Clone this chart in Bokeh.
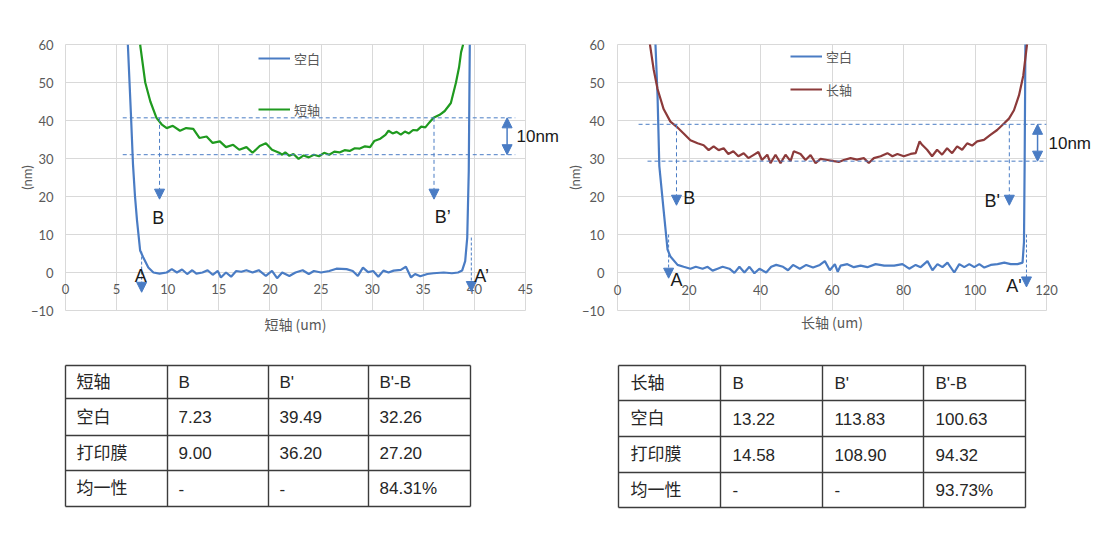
from bokeh.plotting import figure
from bokeh.models import Range1d, Label, Arrow, NormalHead, Legend, LegendItem, FixedTicker, LinearAxis
from bokeh.layouts import column, row
from bokeh.embed import file_html
from bokeh.resources import INLINE
from bokeh.core.properties import value

# ---------------- data ----------------
y_ticks = [-10, 0, 10, 20, 30, 40, 50, 60]
short_ticks = [0, 5, 10, 15, 20, 25, 30, 35, 40, 45]
long_ticks = [0, 20, 40, 60, 80, 100, 120]

# 短轴 chart: 空白 (blank)
blank_short_x = [6.1, 6.4, 6.6, 6.8, 7.0, 7.3, 7.6, 8.1, 8.6, 9.2, 9.9, 10.4, 10.9, 11.4, 11.9,
                 12.4, 12.8, 13.4, 13.9, 14.4, 14.9, 15.2, 15.7, 16.2, 16.7, 17.2, 17.7, 18.3, 18.9,
                 19.6, 20.2, 20.7, 21.2, 21.9, 22.5, 23.2, 23.8, 24.3, 25.0, 25.8, 26.5, 27.5, 28.1,
                 28.6, 29.1, 29.6, 30.1, 30.6, 31.1, 31.6, 32.1, 32.8, 33.3, 33.8, 34.2, 34.7, 35.4,
                 36.0, 37.0, 37.8, 38.4, 38.8, 39.1, 39.3, 39.45, 39.55]
blank_short_y = [60, 41.7, 28.6, 20.0, 13.6, 5.8, 4.0, 1.3, 0.0, -0.3, 0.0, 0.9, 0.0, 0.8, -0.4,
                 0.6, -0.3, 0.0, 0.6, -0.6, 0.4, -1.3, 0.0, -1.1, 0.4, 0.2, 0.6, 0.0, 0.6,
                 -0.9, 0.4, -1.5, 0.0, -0.9, 0.0, 0.6, -0.4, 0.4, 0.0, 0.4, 1.0, 0.9, 0.4,
                 -0.9, 1.3, 0.1, 0.4, -1.1, 0.5, 0.0, 0.5, 0.7, 1.5, -1.3, -0.4, -1.0, -0.4,
                 -0.2, 0.0, -0.2, 0.0, 0.5, 3.0, 9.2, 26.8, 60]

# 短轴 chart: printed film
film_short_x = [7.3, 7.8, 8.3, 8.9, 9.4, 9.9, 10.5, 11.2, 11.8, 12.5, 13.1, 13.8, 14.4, 15.1,
                15.7, 16.4, 17.0, 17.7, 18.3, 19.0, 19.6, 20.2, 20.9, 21.2, 21.5, 21.9, 22.3,
                22.8, 23.3, 23.8, 24.3, 24.8, 25.3, 25.8, 26.3, 26.8, 27.3, 27.8, 28.3, 28.8,
                29.3, 29.8, 30.2, 30.8, 31.3, 31.6, 32.0, 32.4, 32.8, 33.2, 33.6, 34.0, 34.4,
                34.8, 35.2, 35.6, 36.0, 36.6, 37.1, 37.7, 38.2, 38.5, 38.7, 38.9]
film_short_y = [60, 50, 45, 40.7, 39.0, 38.0, 38.6, 37.3, 38.0, 37.8, 35.4, 35.8, 34.1, 34.5,
                33.0, 33.6, 32.3, 33.0, 31.5, 33.3, 34.0, 32.3, 31.5, 31.0, 31.6, 30.7, 31.2,
                29.9, 30.8, 30.3, 31.0, 30.6, 31.5, 31.0, 31.8, 31.6, 32.2, 32.0, 32.7, 32.6,
                33.2, 33.0, 34.6, 35.2, 36.2, 37.3, 36.6, 37.0, 36.3, 37.1, 36.6, 37.5, 37.4,
                38.4, 38.2, 39.5, 40.7, 41.5, 42.5, 44.6, 50, 54, 58, 60]

# 长轴 chart: 空白 (blank)
blank_long_x = [10.6, 11.2, 11.7, 12.9, 14.0, 14.8, 16.8, 18.5, 20.4, 21.9, 23.8, 25.2, 26.6,
                28.0, 29.4, 31.3, 32.7, 34.1, 35.5, 36.9, 38.3, 39.7, 41.6, 43.0, 44.4, 46.3,
                47.7, 49.1, 51.0, 52.8, 54.7, 56.6, 58.0, 59.4, 60.8, 61.6, 62.4, 64.3, 66.1,
                68.0, 69.9, 72.2, 74.6, 77.4, 79.7, 81.6, 83.4, 84.8, 86.7, 88.1, 89.5, 90.9,
                92.3, 94.2, 95.6, 97.0, 98.4, 99.8, 101.2, 102.6, 104.4, 106.3, 108.2, 110.0,
                111.9, 113.3, 113.7, 113.9, 114.1]
blank_long_y = [60.5, 46.5, 28.0, 16.4, 6.0, 4.2, 2.0, 1.5, 1.0, 1.5, 1.0, 1.5, 0.5,
                1.0, 1.5, 1.0, -0.1, 1.5, 0.0, 1.5, -0.2, 1.0, 0.0, 1.5, 2.0, 1.5,
                0.6, 2.0, 1.0, 2.0, 1.3, 2.0, 3.0, 0.6, 2.2, 0.2, 1.8, 2.2, 1.4,
                1.8, 1.4, 2.2, 1.8, 1.8, 2.2, 1.0, 2.0, 1.4, 3.0, 0.6, 2.2, 1.4,
                2.6, 0.0, 2.2, 1.4, 2.2, 1.4, 2.2, 1.3, 2.0, 2.2, 2.6, 2.2,
                2.2, 2.6, 8.0, 30.0, 60.5]

# 长轴 chart: printed film
film_long_x = [9.0, 10.1, 11.2, 12.9, 14.8, 16.5, 18.5, 20.4, 22.4, 24.1, 25.5, 26.9, 28.3,
               29.7, 31.0, 32.4, 33.8, 35.3, 36.6, 38.0, 39.4, 40.4, 41.9, 42.8, 44.2, 45.6,
               47.0, 48.4, 49.3, 51.2, 52.6, 54.0, 55.4, 56.8, 58.7, 60.6, 61.9, 63.3, 65.2,
               67.0, 68.9, 70.3, 71.7, 73.6, 75.5, 76.9, 78.3, 80.1, 82.0, 83.4, 84.5, 85.2,
               86.6, 88.0, 89.4, 90.8, 92.2, 93.6, 95.0, 96.4, 97.8, 99.2, 100.6, 102.5, 104.3,
               106.2, 108.1, 109.5, 110.9, 112.3, 113.5, 114.6]
film_long_y = [60.5, 53.5, 48.3, 43.0, 39.7, 38.4, 36.6, 34.8, 34.0, 33.5, 32.2, 33.2, 32.2,
               32.7, 31.2, 31.9, 30.6, 31.4, 30.1, 30.9, 31.7, 29.6, 31.0, 28.8, 31.0, 28.8,
               31.0, 29.3, 31.9, 31.2, 29.6, 30.9, 28.8, 29.9, 29.6, 29.3, 29.1, 29.6, 30.1,
               29.7, 30.1, 28.8, 30.1, 30.6, 31.4, 30.6, 31.2, 30.6, 31.2, 31.4, 34.5, 33.6,
               32.3, 30.6, 32.3, 31.0, 32.7, 31.4, 33.2, 32.3, 34.0, 33.4, 34.5, 34.9, 36.2,
               37.5, 39.2, 40.5, 42.7, 46.6, 51.8, 60.4]

# marker annotations
short_band = [31.0, 40.7]
short_B = [9.2, 36.05]
short_A = [7.45, 39.7]
long_band = [29.3, 39.0]
long_B = [16.5, 109.6]
long_A = [14.3, 114.4]

# tables
short_header = ["短轴", "B", "B'", "B'-B"]
short_rows = [["空白", "7.23", "39.49", "32.26"],
              ["打印膜", "9.00", "36.20", "27.20"],
              ["均一性", "-", "-", "84.31%"]]
long_header = ["长轴", "B", "B'", "B'-B"]
long_rows = [["空白", "13.22", "113.83", "100.63"],
             ["打印膜", "14.58", "108.90", "94.32"],
             ["均一性", "-", "-", "93.73%"]]

# ---------------- style ----------------
BLUE = "#4a7cc4"
GREEN = "#1f9a1f"
RED = "#8c3a3a"
GRID = "#d9d9d9"
TICK = "#595959"
INK = "#1a1a1a"
CJK = "Noto Sans CJK SC"
LAT = "Liberation Sans"
NUMF = "Lato"


def no_ticks(ax):
    ax.axis_line_color = None
    ax.major_tick_line_color = None
    ax.minor_tick_line_color = None
    ax.major_tick_out = 0
    ax.major_tick_in = 0
    ax.minor_tick_out = 0
    ax.minor_tick_in = 0


def base_chart(width, height, left, right, top, bottom, xmax, xticks, x_title,
               xstand, xtitle_stand, ystand, ytitle_stand):
    p = figure(width=width, height=height, x_range=Range1d(0, xmax), y_range=Range1d(-10, 60),
               output_backend="svg", toolbar_location=None,
               min_border_left=left, min_border_right=width - right,
               min_border_top=top, min_border_bottom=height - bottom)
    p.background_fill_color = "white"
    p.border_fill_color = "white"
    p.outline_line_color = GRID
    p.xaxis.ticker = FixedTicker(ticks=xticks)
    p.yaxis.ticker = FixedTicker(ticks=y_ticks)
    p.xgrid.ticker = FixedTicker(ticks=xticks)
    p.ygrid.ticker = FixedTicker(ticks=y_ticks)
    p.grid.grid_line_color = GRID
    p.grid.grid_line_width = 1
    for ax in (p.xaxis[0], p.yaxis[0]):
        no_ticks(ax)
        ax.major_label_text_font = NUMF
        ax.major_label_text_font_size = "13px"
        ax.major_label_text_color = TICK
        ax.axis_label_text_font_style = "normal"
        ax.axis_label_text_color = TICK
    p.xaxis.major_label_standoff = xstand
    p.xaxis.axis_label = x_title
    p.xaxis.axis_label_standoff = xtitle_stand
    p.xaxis.axis_label_text_font = CJK
    p.xaxis.axis_label_text_font_size = "14px"
    p.yaxis.major_label_standoff = ystand
    p.yaxis.axis_label = "(nm)"
    p.yaxis.axis_label_standoff = ytitle_stand
    p.yaxis.axis_label_text_font = NUMF
    p.yaxis.axis_label_text_font_size = "13px"
    return p


def head():
    return NormalHead(size=10, fill_color=BLUE, line_color=BLUE, line_width=1)


def marks(p, band, band_x0, band_x1, B, B_tip, A, A_top, A_tip, ten_x, ten_y, ten_stand):
    for i, yb in enumerate(band):
        p.add_layout(Arrow(x_start=band_x0[i], y_start=yb, x_end=band_x1[i], y_end=yb,
                           start=None, end=None, line_color=BLUE, line_width=1, line_dash="4 3"))
    for xb in B:
        p.add_layout(Arrow(x_start=xb, y_start=band[1], x_end=xb, y_end=B_tip,
                           start=None, end=head(), line_color=BLUE, line_width=1, line_dash="4 3"))
    for xa, top, tip in zip(A, A_top, A_tip):
        p.add_layout(Arrow(x_start=xa, y_start=top, x_end=xa, y_end=tip,
                           start=None, end=head(), line_color=BLUE, line_width=1, line_dash="3 2"))
    p.add_layout(Arrow(x_start=ten_x, y_start=band[0], x_end=ten_x, y_end=band[1],
                       start=head(), end=head(), line_color=BLUE, line_width=1.5))
    # "10nm" note, carried by a right-hand axis so it may sit beyond the plot frame
    ax = LinearAxis(ticker=FixedTicker(ticks=[ten_y]), major_label_overrides={ten_y: "10nm"})
    no_ticks(ax)
    ax.major_label_standoff = ten_stand
    ax.major_label_text_font = LAT
    ax.major_label_text_font_size = "17px"
    ax.major_label_text_color = INK
    p.add_layout(ax, "right")


def lab(p, x, y, text):
    p.add_layout(Label(x=x, y=y, text=text, text_font=LAT, text_font_size="18px",
                       text_color=INK, text_align="center", text_baseline="middle"))


def add_legend(p, items, loc, spacing):
    lg = Legend(items=[LegendItem(label=t, renderers=[r]) for t, r in items],
                location=loc, orientation="vertical", spacing=spacing, padding=0, margin=0,
                glyph_width=32, glyph_height=20, label_height=20, label_standoff=4,
                border_line_color=None, background_fill_alpha=0,
                label_text_font=CJK, label_text_font_size="13px", label_text_color=TICK)
    p.add_layout(lg)


# ---------------- chart 1 (短轴) ----------------
W1, W2, H = 562, 536, 358
c1 = base_chart(W1, H, 65, 528, 43, 310, 45, short_ticks, "短轴 (um)", -27, 17, 12, -7)
r1 = c1.line(blank_short_x, blank_short_y, line_color=BLUE, line_width=2.2)
r2 = c1.line(film_short_x, film_short_y, line_color=GREEN, line_width=2.2)
add_legend(c1, [("空白", r1), ("短轴", r2)], (193, 191), 31)
marks(c1, short_band, [5.6, 5.6], [44.0, 44.0], short_B, 19.3, short_A, [5.5, 9.2], [-5.2, -5.0],
      43.2, 35.7, -9)
lab(c1, 9.07, 14.3, "B")
lab(c1, 36.9, 14.5, "B’")
lab(c1, 7.35, -0.8, "A")
lab(c1, 40.7, -1.0, "A’")

# ---------------- chart 2 (长轴) ----------------
c2 = base_chart(W2, H, 55, 484, 44, 315, 120, long_ticks, "长轴 (um)", -26, 14, 13, -4)
s1 = c2.line(blank_long_x, blank_long_y, line_color=BLUE, line_width=2.2)
s2 = c2.line(film_long_x, film_long_y, line_color=RED, line_width=2.2)
add_legend(c2, [("空白", s1), ("长轴", s2)], (173, 211), 13)
marks(c2, long_band, [8.4, 5.9], [122.5, 120.0], long_B, 17.7, long_A, [10.0, 10.0], [-1.5, -3.8],
      117.5, 34.0, 2)
lab(c2, 20.1, 19.5, "B")
lab(c2, 104.8, 18.9, "B'")
lab(c2, 16.5, -1.9, "A")
lab(c2, 110.9, -3.5, "A'")


# ---------------- tables ----------------
def make_table(width, height, col_edges, row_edges, header, rows, pad):
    t = figure(width=width, height=height, x_range=Range1d(0, width), y_range=Range1d(height, 0),
               min_border=0, toolbar_location=None, output_backend="svg",
               x_axis_location=None, y_axis_location=None)
    t.grid.visible = False
    t.outline_line_color = None
    t.background_fill_color = "white"
    t.border_fill_color = "white"
    n_r, n_c = len(row_edges), len(col_edges)
    t.segment(x0=[col_edges[0]] * n_r, y0=row_edges, x1=[col_edges[-1]] * n_r, y1=row_edges,
              line_color="#3c3c3c", line_width=1.4)
    t.segment(x0=col_edges, y0=[row_edges[0]] * n_c, x1=col_edges, y1=[row_edges[-1]] * n_c,
              line_color="#3c3c3c", line_width=1.4)
    tx, ty, tt = [], [], []
    for i, r in enumerate([header] + rows):
        for j, c in enumerate(r):
            tx.append(col_edges[j] + pad)
            ty.append((row_edges[i] + row_edges[i + 1]) / 2)
            tt.append(c)
    t.text(x=tx, y=ty, text=tt, text_font=value(LAT + ", " + CJK), text_font_size=value("17px"),
           text_color="#262626", text_baseline="middle", text_align="left")
    return t


TH = 170
t1 = make_table(W1, TH, [65, 167, 268, 368, 470], [7, 40, 77, 112, 148], short_header, short_rows, 11)
t2 = make_table(W2, TH, [56, 158, 260, 361, 463], [7, 42, 78, 114, 149], long_header, long_rows, 12)

page = column(row(c1, c2), row(t1, t2))
open("out.html", "w").write(file_html(page, INLINE))
